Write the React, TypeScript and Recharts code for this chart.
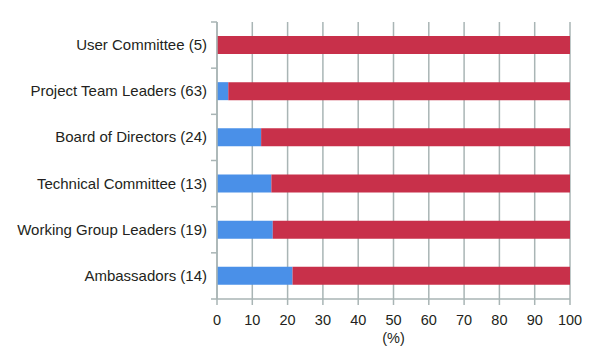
import { BarChart, Bar, XAxis, YAxis, CartesianGrid } from "recharts";

const groups = [
  "User Committee (5)",
  "Project Team Leaders (63)",
  "Board of Directors (24)",
  "Technical Committee (13)",
  "Working Group Leaders (19)",
  "Ambassadors (14)",
];
const bluePct = [0, 3.2, 12.5, 15.4, 15.8, 21.4];
const redPct = [100, 96.8, 87.5, 84.6, 84.2, 78.6];
const xTicks = [0, 10, 20, 30, 40, 50, 60, 70, 80, 90, 100];

const data = groups.map((name, i) => ({ name, blue: bluePct[i], red: redPct[i] }));

const W = 595;
const H = 352;
const TOP = 22;
const X_AXIS_H = 53;
const BAND = (H - TOP - X_AXIS_H) / groups.length;
const AXIS_COLOR = "#a9b5b5";
const FONT = "'Liberation Sans', Arial, sans-serif";

// category ticks sit between the bands, so draw them from the label tick
function CategoryTick(props: any) {
  const { x, y, payload, index } = props;
  const ax = x + 8;
  return (
    <g>
      <line x1={ax - 6} x2={ax} y1={y - BAND / 2} y2={y - BAND / 2} stroke={AXIS_COLOR} strokeWidth={1.5} />
      {index === groups.length - 1 && (
        <line x1={ax - 6} x2={ax} y1={y + BAND / 2} y2={y + BAND / 2} stroke={AXIS_COLOR} strokeWidth={1.5} />
      )}
      <text x={ax - 10} y={y} dy={5} textAnchor="end" fontSize={15} fill="#231f20" fontFamily={FONT}>
        {payload.value}
      </text>
    </g>
  );
}

export default function App() {
  return (
    <div style={{ position: "absolute", left: 0, top: 0, background: "#fff" }}>
      <BarChart
        width={W}
        height={H}
        data={data}
        layout="vertical"
        margin={{ top: TOP, right: 25, left: 0, bottom: 0 }}
        barSize={18}
      >
        <CartesianGrid vertical horizontal={false} stroke={AXIS_COLOR} strokeWidth={1.5} />
        <XAxis
          type="number"
          domain={[0, 100]}
          ticks={xTicks}
          interval={0}
          height={X_AXIS_H}
          stroke={AXIS_COLOR}
          strokeWidth={1.5}
          tickSize={6}
          tickMargin={10}
          tick={{ fontSize: 14.5, fill: "#231f20", fontFamily: FONT }}
          label={{ value: "(%)", position: "insideBottom", offset: 9, fontSize: 14.5, fill: "#231f20", fontFamily: FONT }}
        />
        <YAxis
          type="category"
          dataKey="name"
          width={217}
          interval={0}
          stroke={AXIS_COLOR}
          strokeWidth={1.5}
          tickLine={false}
          tick={<CategoryTick />}
        />
        <Bar dataKey="blue" stackId="a" fill="#4a90e8" isAnimationActive={false} />
        <Bar dataKey="red" stackId="a" fill="#c8304a" isAnimationActive={false} />
      </BarChart>
    </div>
  );
}
